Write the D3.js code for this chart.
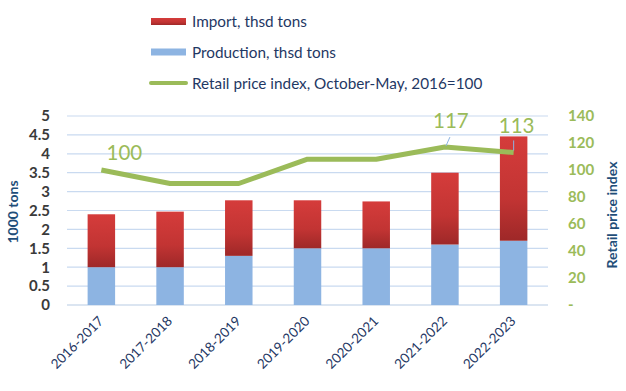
<!DOCTYPE html>
<html><head><meta charset="utf-8">
<script src="https://cdn.jsdelivr.net/npm/d3@7"></script>
<style>body{margin:0;background:#fff}svg{display:block}text{font-family:Lato,"Open Sans",sans-serif}</style>
</head><body><svg id="c" width="626" height="391"></svg>
<script>
const categories = ["2016-2017","2017-2018","2018-2019","2019-2020","2020-2021","2021-2022","2022-2023"];
const production = [1.0, 1.0, 1.3, 1.5, 1.5, 1.6, 1.7];
const imports = [1.4, 1.47, 1.47, 1.27, 1.24, 1.9, 2.76];
const priceIndex = [100, 90, 90, 108, 108, 117, 113];
const leftTicks = [0,0.5,1,1.5,2,2.5,3,3.5,4,4.5,5];
const rightTicks = [0,20,40,60,80,100,120,140];
const labeledPoints = [0,5,6];

const svg = d3.select("#c");
const M = {l:67, r:548, t:116, b:305};
const x = d3.scaleBand().domain(categories).range([M.l, M.r]).paddingInner(0.6).paddingOuter(0.3);
const y = d3.scaleLinear().domain([0,5]).range([M.b, M.t]);
const y2 = d3.scaleLinear().domain([0,140]).range([M.b, M.t]);

const defs = svg.append("defs");
const g1 = defs.append("linearGradient").attr("id","red").attr("x1",0).attr("y1",0).attr("x2",0).attr("y2",1);
g1.append("stop").attr("offset","0%").attr("stop-color","#d53c3b");
g1.append("stop").attr("offset","60%").attr("stop-color","#c23433");
g1.append("stop").attr("offset","100%").attr("stop-color","#9e2828");

// gridlines
svg.append("g").selectAll("line").data(leftTicks).join("line")
  .attr("x1",M.l).attr("x2",M.r).attr("y1",d=>y(d)).attr("y2",d=>y(d))
  .attr("stroke",d=>d===0?"#b8cce4":"#c9daf0").attr("stroke-width",1.2);

// left axis
const la = svg.append("g").attr("transform",`translate(${M.l},0)`)
  .call(d3.axisLeft(y).tickValues(leftTicks).tickSize(0).tickPadding(17).tickFormat(d3.format("")));
la.select(".domain").remove();
la.selectAll("text").attr("fill","#3a3a3a").attr("font-size",15).attr("font-weight","bold");

// right axis
const ra = svg.append("g").attr("transform",`translate(${M.r},0)`)
  .call(d3.axisRight(y2).tickValues(rightTicks).tickSize(0).tickPadding(20).tickFormat(d=>d===0?"-":d));
ra.select(".domain").remove();
ra.selectAll("text").attr("fill","#9bbb59").attr("font-size",15).attr("font-weight","bold");

// x axis
const xa = svg.append("g").attr("transform",`translate(0,${M.b})`)
  .call(d3.axisBottom(x).tickSize(0).tickPadding(0));
xa.select(".domain").remove();
xa.selectAll("text").attr("fill","#1f3864").attr("font-size",13.5)
  .attr("text-anchor","end").attr("dy",0)
  .attr("transform","translate(3,17) rotate(-45)");

// bars
const bars = svg.append("g");
bars.selectAll("rect.p").data(categories).join("rect").attr("class","p")
  .attr("x",d=>x(d)).attr("width",x.bandwidth())
  .attr("y",(d,i)=>y(production[i])).attr("height",(d,i)=>y(0)-y(production[i]))
  .attr("fill","#8db4e2");
bars.selectAll("rect.i").data(categories).join("rect").attr("class","i")
  .attr("x",d=>x(d)).attr("width",x.bandwidth())
  .attr("y",(d,i)=>y(production[i]+imports[i])).attr("height",(d,i)=>y(production[i])-y(production[i]+imports[i]))
  .attr("fill","url(#red)");

// line
const cx = d=>x(d)+x.bandwidth()/2;
const line = d3.line().x((d,i)=>cx(categories[i])).y(d=>y2(d));
svg.append("path").datum(priceIndex).attr("d",line).attr("fill","none")
  .attr("stroke","#9bbb59").attr("stroke-width",5).attr("stroke-linejoin","round");

// labels
const lblOff = {0:[23,-10],5:[6,-19],6:[3,-19]};
labeledPoints.forEach(i=>{
  const px = cx(categories[i]), py = y2(priceIndex[i]);
  const o = lblOff[i];
  svg.append("text").attr("x",px+o[0]).attr("y",py+o[1]).attr("text-anchor","middle")
    .attr("fill","#9bbb59").attr("font-size",20.5).text(priceIndex[i]);
});
// leader lines
svg.append("line").attr("x1",cx(categories[5])+5).attr("y1",y2(priceIndex[5])-10)
  .attr("x2",cx(categories[5])+1).attr("y2",y2(priceIndex[5])-1).attr("stroke","#8db4e2").attr("stroke-width",1);
svg.append("line").attr("x1",cx(categories[6])).attr("y1",y2(priceIndex[6])-12)
  .attr("x2",cx(categories[6])).attr("y2",y2(priceIndex[6])-2).attr("stroke","#8db4e2").attr("stroke-width",1);

// axis titles
svg.append("text").attr("transform","translate(18,212) rotate(-90)").attr("text-anchor","middle")
  .attr("fill","#1f4e79").attr("font-size",14).attr("font-weight","bold").text("1000 tons");
svg.append("text").attr("transform","translate(617,215) rotate(-90)").attr("text-anchor","middle")
  .attr("fill","#1f4e79").attr("font-size",14).attr("font-weight","bold").text("Retail price index");

// legend
const legend = [
  {t:"Import, thsd tons", type:"rect", c:"url(#red)", y:21.5},
  {t:"Production, thsd tons", type:"rect", c:"#8db4e2", y:52},
  {t:"Retail price index, October-May, 2016=100", type:"line", c:"#9bbb59", y:83}
];
const lg = svg.append("g");
legend.forEach(d=>{
  if(d.type==="rect") lg.append("rect").attr("x",151).attr("y",d.y-3.5).attr("width",35).attr("height",7).attr("fill",d.c);
  else lg.append("line").attr("x1",151).attr("x2",186).attr("y1",d.y).attr("y2",d.y).attr("stroke",d.c).attr("stroke-width",4).attr("stroke-linecap","round");
  lg.append("text").attr("x",192).attr("y",d.y+5.5).attr("fill","#1f3864").attr("font-size",15.3).text(d.t);
});
</script></body></html>
